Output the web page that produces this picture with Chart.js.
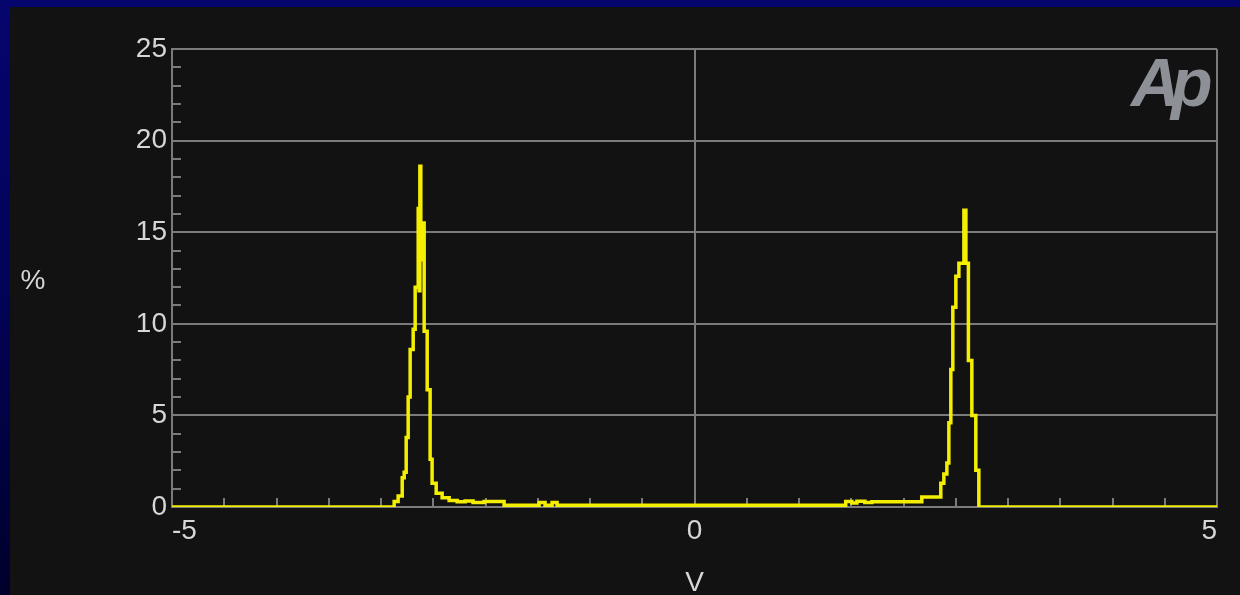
<!DOCTYPE html>
<html><head><meta charset="utf-8">
<script src="https://cdn.jsdelivr.net/npm/chart.js@4.4.1/dist/chart.umd.min.js"></script>
<style>
html,body{margin:0;padding:0;width:1240px;height:595px;overflow:hidden;
background:linear-gradient(to bottom,#05056e 0%,#03035a 45%,#00002c 100%);}
#panel{position:absolute;left:10px;top:7px;width:1230px;height:588px;background:#121212;}
#wrap{position:absolute;left:0;top:0;width:1240px;height:595px;}
</style></head><body>
<div id="panel"></div>
<div id="wrap"><canvas id="c" width="1240" height="595"></canvas></div>
<script>
// Distribution of the signal level (histogram, % of samples per voltage bin)
const voltage = [-5.000,-2.874,-2.836,-2.797,-2.778,-2.759,-2.740,-2.721,-2.692,-2.673,-2.644,-2.635,-2.628,-2.619,-2.611,
  -2.587,-2.558,-2.530,-2.511,-2.472,-2.415,-2.348,-2.271,-2.195,-2.119,-2.013,-1.822,
  -1.487,-1.430,-1.363,-1.315,
  1.447,1.506,1.554,1.630,1.697,2.175,2.357,2.386,2.415,2.434,2.453,2.472,2.501,2.530,2.578,2.597,2.621,2.654,2.692,2.721,5.000];
const percent = [0,0.3,0.6,1.6,1.9,3.8,6.0,8.6,9.7,12.0,16.3,11.8,18.6,13.5,15.5,
  9.6,6.4,2.6,1.3,0.75,0.5,0.35,0.28,0.33,0.25,0.3,0.1,
  0.25,0.1,0.25,0.1,
  0.3,0.22,0.32,0.25,0.28,0.55,1.3,1.8,2.4,4.6,7.5,10.9,12.6,13.3,16.2,13.3,8.0,5.0,2.0,0,0];
const xTickValues = [-5, 0, 5];
const yTickValues = [0, 5, 10, 15, 20, 25];
const xMinorTicks = [-4.5,-4,-3.5,-3,-2.5,-2,-1.5,-1,-0.5,0.5,1,1.5,2,2.5,3,3.5,4,4.5];
const yMinorTicks = [1,2,3,4,6,7,8,9,11,12,13,14,16,17,18,19,21,22,23,24];
const xTitle = 'V';
const yTitle = '%';
const logoText = ['A', 'p'];

const gridColor = '#7b7b7b';
const textColor = '#d6d6d6';
const fontFamily = "'Liberation Sans Narrow','Arial Narrow','Liberation Sans',sans-serif";

const decor = {
  id: 'decor',
  beforeDatasetsDraw(chart) {
    const {ctx, chartArea: a, scales: {x, y}} = chart;
    ctx.save();
    ctx.strokeStyle = gridColor;
    ctx.lineWidth = 2;
    ctx.beginPath();
    yMinorTicks.forEach(v => {
      const py = Math.round(y.getPixelForValue(v));
      ctx.moveTo(a.left, py); ctx.lineTo(a.left + 9, py);
    });
    xMinorTicks.forEach(v => {
      const px = Math.round(x.getPixelForValue(v));
      ctx.moveTo(px, a.bottom); ctx.lineTo(px, a.bottom - 9);
    });
    ctx.stroke();
    ctx.restore();
  },
  afterDraw(chart) {
    const {ctx, chartArea: a} = chart;
    ctx.save();
    ctx.fillStyle = textColor;
    ctx.font = "28px " + fontFamily;
    ctx.textAlign = 'center';
    ctx.textBaseline = 'middle';
    ctx.fillText(yTitle, 33, (a.top + a.bottom) / 2 + 3);
    ctx.fillText(xTitle, (a.left + a.right) / 2, 583);
    ctx.fillStyle = '#8d9197';
    ctx.font = "italic bold 68px 'Liberation Sans',sans-serif";
    ctx.textAlign = 'left';
    ctx.textBaseline = 'alphabetic';
    ctx.fillText(logoText[0], a.right - 86, a.top + 57);
    ctx.fillText(logoText[1], a.right - 46, a.top + 57);
    ctx.restore();
  }
};

new Chart(document.getElementById('c'), {
  type: 'line',
  data: {
    labels: voltage,
    datasets: [{
      data: voltage.map((v, i) => ({x: v, y: percent[i]})),
      borderColor: '#f4ee00',
      borderWidth: 3.5,
      pointRadius: 0,
      stepped: true,
      fill: false,
      tension: 0
    }]
  },
  options: {
    responsive: false,
    animation: false,
    devicePixelRatio: 1,
    layout: {padding: {left: 0, top: 49, right: 23, bottom: 48}},
    plugins: {legend: {display: false}, tooltip: {enabled: false}},
    scales: {
      x: {
        type: 'linear', min: -5, max: 5,
        afterBuildTicks: s => { s.ticks = xTickValues.map(v => ({value: v})); },
        afterFit: s => { s.height = 40; },
        ticks: {color: textColor, font: {family: fontFamily, size: 28}, padding: 7, align: 'inner', maxRotation: 0, autoSkip: false},
        grid: {color: gridColor, lineWidth: 2, drawTicks: false},
        border: {color: gridColor, width: 2}
      },
      y: {
        type: 'linear', min: 0, max: 25,
        afterBuildTicks: s => { s.ticks = yTickValues.map(v => ({value: v})); },
        afterFit: s => { s.width = 172; },
        ticks: {color: textColor, font: {family: fontFamily, size: 28}, padding: 5},
        grid: {color: gridColor, lineWidth: 2, drawTicks: false},
        border: {color: gridColor, width: 2}
      }
    }
  },
  plugins: [decor]
});
</script>
</body></html>
